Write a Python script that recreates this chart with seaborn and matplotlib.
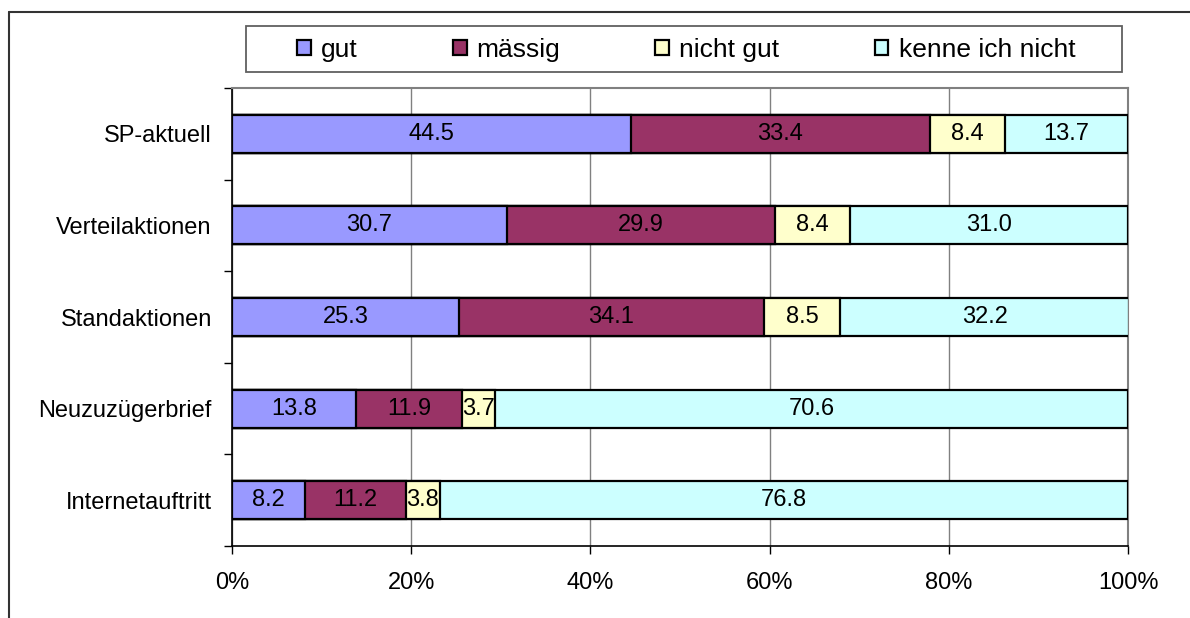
import matplotlib
matplotlib.use("Agg")
import matplotlib.pyplot as plt
import seaborn as sns
import pandas as pd
import numpy as np
from matplotlib.lines import Line2D
from matplotlib.patches import Patch, Rectangle
from matplotlib.ticker import FuncFormatter

categories = ["SP-aktuell", "Verteilaktionen", "Standaktionen", "Neuzuzügerbrief", "Internetauftritt"]
series_names = ["gut", "mässig", "nicht gut", "kenne ich nicht"]
gut = [44.5, 30.7, 25.3, 13.8, 8.2]
maessig = [33.4, 29.9, 34.1, 11.9, 11.2]
nicht_gut = [8.4, 8.4, 8.5, 3.7, 3.8]
kenne_nicht = [13.7, 31.0, 32.2, 70.6, 76.8]
x_ticks = [0, 20, 40, 60, 80, 100]

colors = ["#9999FF", "#993366", "#FFFFCC", "#CCFFFF"]
FS = 17
LFS = 19

sns.set_style("white")
plt.rcParams["font.family"] = ["Liberation Sans", "DejaVu Sans"]
plt.rcParams["text.color"] = "black"
plt.rcParams["xtick.color"] = "black"
plt.rcParams["ytick.color"] = "black"
plt.rcParams["axes.labelcolor"] = "black"

W, H = 1190, 618
fig = plt.figure(figsize=(W/100, H/100), dpi=100)
ax = fig.add_axes([232/W, 1-546/H, (1128-232)/W, (546-88)/H])

values = [gut, maessig, nicht_gut, kenne_nicht]
cum = np.cumsum(np.array(values), axis=0)
df = pd.DataFrame({"cat": categories})
for i, name in enumerate(series_names):
    df[name] = cum[i]

for i in reversed(range(len(series_names))):
    sns.barplot(data=df, y="cat", x=series_names[i], order=categories, orient="h",
                color=colors[i], saturation=1, edgecolor="black", linewidth=1.6,
                width=0.415, ax=ax, zorder=3)

starts = cum - np.array(values)
for i in range(len(series_names)):
    for j in range(len(categories)):
        v = values[i][j]
        ax.text(starts[i][j] + v/2, j, f"{v:.1f}", ha="center", va="center",
                fontsize=FS, color="black", zorder=5)

ax.set_xlim(0, 100)
ax.set_ylim(4.5, -0.5)
ax.set_xticks(x_ticks)
ax.xaxis.set_major_formatter(FuncFormatter(lambda v, p: f"{int(v)}%"))
ax.set_xlabel("")
ax.set_ylabel("")
ax.set_axisbelow(True)
ax.grid(axis="x", color="#808080", linewidth=1, zorder=0)
ax.grid(axis="y", visible=False)
ax.set_yticks([i - 0.5 for i in range(6)], minor=True)
ax.tick_params(axis="y", which="major", length=0, pad=14.5, labelsize=FS, labelcolor="black")
ax.tick_params(axis="y", which="minor", length=6, width=1, color="black", direction="out", left=True)
ax.tick_params(axis="x", which="major", length=6, width=1, color="black", direction="out",
               pad=13, labelsize=FS, bottom=True, labelcolor="black")
for s in ["left", "bottom"]:
    ax.spines[s].set_color("black")
    ax.spines[s].set_linewidth(1.2)
for s in ["top", "right"]:
    ax.spines[s].set_visible(True)
    ax.spines[s].set_color("#808080")
    ax.spines[s].set_linewidth(1.5)

# legend box
lx0, ly0, lx1, ly1 = 246, 26, 1122, 72
fig.add_artist(Rectangle((lx0/W, 1-ly1/H), (lx1-lx0)/W, (ly1-ly0)/H, transform=fig.transFigure,
                         facecolor="white", edgecolor="#606060", linewidth=1.3))
handles = [Patch(facecolor=c, edgecolor="black", linewidth=1.6) for c in colors]
leg = fig.legend(handles, series_names, loc="center",
                 bbox_to_anchor=((297+1075)/2/W, 1-50/H),
                 ncol=4, fontsize=LFS, frameon=False,
                 handlelength=0.53, handleheight=0.53, handletextpad=0.38,
                 columnspacing=3.6, borderaxespad=0, borderpad=0)
for t in leg.get_texts():
    t.set_color("black")

fig.add_artist(Line2D([9/W, 1.0], [1-12/H, 1-12/H], transform=fig.transFigure,
                      color="#333333", linewidth=1.5))
fig.add_artist(Line2D([9/W, 9/W], [0.0, 1-12/H], transform=fig.transFigure,
                      color="#333333", linewidth=1.5))

fig.savefig("out.png", dpi=100)
